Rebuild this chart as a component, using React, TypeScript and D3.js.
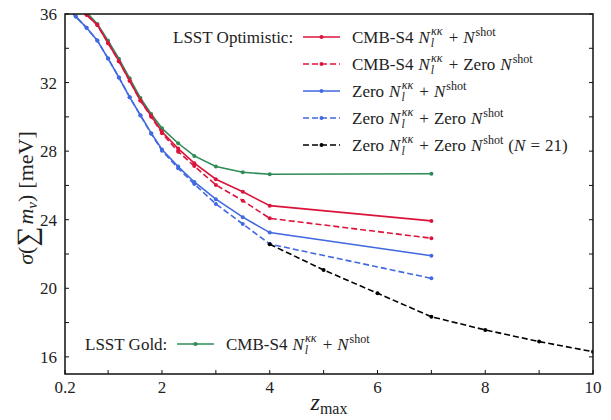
import React from 'react';
import * as d3 from 'd3';

const WIDTH = 611;
const HEIGHT = 420;
const MARGIN = { top: 14, right: 18, bottom: 46, left: 65 };
const FONT = 'Liberation Serif, DejaVu Serif, serif';

// LSST Optimistic, CMB-S4 N_l + N_shot
const zRed = [0.4, 0.6, 0.8, 1.0, 1.2, 1.4, 1.6, 1.8, 2.0, 2.3, 2.6, 3.0, 3.5, 4.0, 7.0];
const redSolid = [36.7, 35.95, 35.36, 34.3, 33.25, 32.1, 30.95, 30.05, 29.13, 28.15, 27.3, 26.36, 25.63, 24.82, 23.93];
const redDashed = [36.7, 35.95, 35.36, 34.3, 33.25, 32.1, 30.95, 30.0, 29.05, 27.97, 27.13, 26.03, 25.11, 24.08, 22.92];

// zero lensing noise
const zBlue = [0.2, 0.4, 0.6, 0.8, 1.0, 1.2, 1.4, 1.6, 1.8, 2.0, 2.3, 2.6, 3.0, 3.5, 4.0, 7.0];
const blueSolid = [36.5, 35.85, 35.2, 34.45, 33.4, 32.3, 31.15, 30.1, 29.05, 28.1, 27.1, 26.2, 25.2, 24.15, 23.25, 21.9];
const blueDashed = [36.5, 35.85, 35.2, 34.45, 33.4, 32.3, 31.15, 30.08, 29.02, 28.03, 27.0, 26.08, 24.92, 23.75, 22.58, 20.58];

// N = 21 bins
const zBlack = [4, 5, 6, 7, 8, 9, 10];
const blackDashed = [22.57, 21.07, 19.71, 18.34, 17.57, 16.89, 16.3];

// LSST Gold
const zGreen = [0.6, 0.8, 1.0, 1.2, 1.4, 1.6, 1.8, 2.0, 2.3, 2.6, 3.0, 3.5, 4.0, 7.0];
const greenSolid = [36.1, 35.42, 34.44, 33.39, 32.25, 31.1, 30.17, 29.33, 28.46, 27.72, 27.1, 26.77, 26.65, 26.68];

const xTicks = [0.2, 1, 2, 3, 4, 5, 6, 7, 8, 9, 10];
const xTickLabels = ['0.2', '', '2', '', '4', '', '6', '', '8', '', '10'];
const yTicks = [16, 18, 20, 22, 24, 26, 28, 30, 32, 34, 36];
const yTickLabels = ['16', '', '20', '', '24', '', '28', '', '32', '', '36'];

const RED = '#dc143c';
const BLUE = '#4169e1';
const GREEN = '#2e8b57';
const DASH = '6,3';

const series = [
    { z: zGreen, s: greenSolid, color: GREEN, dash: null },
    { z: zRed, s: redSolid, color: RED, dash: null },
    { z: zRed, s: redDashed, color: RED, dash: DASH },
    { z: zBlue, s: blueSolid, color: BLUE, dash: null },
    { z: zBlue, s: blueDashed, color: BLUE, dash: DASH },
    { z: zBlack, s: blackDashed, color: '#000', dash: DASH },
];

const legendRows = [
    { color: RED, dash: null, pre: 'CMB-S4', zero: false, post: false },
    { color: RED, dash: DASH, pre: 'CMB-S4', zero: true, post: false },
    { color: BLUE, dash: null, pre: 'Zero', zero: false, post: false },
    { color: BLUE, dash: DASH, pre: 'Zero', zero: true, post: false },
    { color: '#000', dash: DASH, pre: 'Zero', zero: true, post: true },
];

const NoiseLabel = ({ x, y, pre, zero, post }) => (
    <text x={x} y={y} fontSize={17} fontFamily={FONT} fill="#222">
        <tspan>{pre}</tspan>
        <tspan fontStyle="italic" dx={5}>N</tspan>
        <tspan fontStyle="italic" fontSize={12} dy={4} dx={1}>l</tspan>
        <tspan fontStyle="italic" fontSize={12} dx={-3} dy={-12}>κκ</tspan>
        <tspan dy={8} dx={6}>+</tspan>
        {zero && <tspan dx={5}>Zero</tspan>}
        <tspan fontStyle="italic" dx={5}>N</tspan>
        <tspan fontSize={12} dy={-7} dx={1}>shot</tspan>
        {post && <tspan dy={7} dx={5}>(</tspan>}
        {post && <tspan fontStyle="italic">N</tspan>}
        {post && <tspan dx={5}>=</tspan>}
        {post && <tspan dx={5}>21)</tspan>}
    </text>
);

const LegendLine = ({ x, y, color, dash }) => (
    <g>
        <line x1={x} x2={x + 37} y1={y} y2={y} stroke={color} strokeWidth={1.6} strokeDasharray={dash || undefined} />
        <circle cx={x + 18.5} cy={y} r={2} fill={color} />
    </g>
);

const App = () => {
    const boundsWidth = WIDTH - MARGIN.left - MARGIN.right;
    const boundsHeight = HEIGHT - MARGIN.top - MARGIN.bottom;

    const xScale = d3.scaleLinear().domain([0.2, 10]).range([0, boundsWidth]);
    const yScale = d3.scaleLinear().domain([15, 36]).range([boundsHeight, 0]);

    return (
        <svg width={WIDTH} height={HEIGHT} style={{ position: 'absolute', left: 0, top: 0, background: '#fff' }}>
            <defs>
                <clipPath id="plot-area">
                    <rect x={0} y={0} width={boundsWidth} height={boundsHeight} />
                </clipPath>
            </defs>
            <g transform={`translate(${MARGIN.left},${MARGIN.top})`}>
                <g clipPath="url(#plot-area)">
                    {series.map((ser, k) => {
                        const pts = ser.z.map((z, i) => [xScale(z), yScale(ser.s[i])] as [number, number]);
                        const path = d3.line()(pts);
                        return (
                            <g key={k}>
                                <path d={path || ''} fill="none" stroke={ser.color} strokeWidth={1.6}
                                    strokeDasharray={ser.dash || undefined} />
                                {pts.map((p, i) => (
                                    <circle key={i} cx={p[0]} cy={p[1]} r={2} fill={ser.color} />
                                ))}
                            </g>
                        );
                    })}
                </g>

                {/* frame */}
                <rect x={0} y={0} width={boundsWidth} height={boundsHeight} fill="none" stroke="#111" strokeWidth={1.5} />

                {xTicks.map((t, i) => (
                    <g key={'x' + i} transform={`translate(${xScale(t)},0)`}>
                        <line y1={boundsHeight} y2={boundsHeight - 4} stroke="#111" strokeWidth={1} />
                        <text y={boundsHeight + 19} textAnchor="middle" fontSize={17} fontFamily={FONT} fill="#222">
                            {xTickLabels[i]}
                        </text>
                    </g>
                ))}
                {yTicks.map((t, i) => (
                    <g key={'y' + i} transform={`translate(0,${yScale(t)})`}>
                        <line x1={0} x2={4} stroke="#111" strokeWidth={1} />
                        <line x1={boundsWidth} x2={boundsWidth - 4} stroke="#111" strokeWidth={1} />
                        <text x={-8} dy="0.35em" textAnchor="end" fontSize={17} fontFamily={FONT} fill="#222">
                            {yTickLabels[i]}
                        </text>
                    </g>
                ))}

                {/* legend: LSST Optimistic */}
                <text x={108} y={29} fontSize={17} fontFamily={FONT} fill="#222">LSST Optimistic:</text>
                {legendRows.map((r, i) => (
                    <g key={'l' + i}>
                        <LegendLine x={238} y={23 + i * 27} color={r.color} dash={r.dash} />
                        <NoiseLabel x={287} y={29 + i * 27} pre={r.pre} zero={r.zero} post={r.post} />
                    </g>
                ))}

                {/* legend: LSST Gold */}
                <text x={20} y={336} fontSize={17} fontFamily={FONT} fill="#222">LSST Gold:</text>
                <LegendLine x={112} y={330} color={GREEN} dash={null} />
                <NoiseLabel x={161} y={336} pre="CMB-S4" zero={false} post={false} />
            </g>

            {/* axis titles */}
            <text x={MARGIN.left + boundsWidth / 2} y={410} textAnchor="middle" fontFamily={FONT} fill="#222">
                <tspan fontStyle="italic" fontSize={24}>z</tspan>
                <tspan fontSize={16} dy={4}>max</tspan>
            </text>
            <text transform="translate(33,198) rotate(-90)" textAnchor="middle" fontFamily={FONT} fill="#222" fontSize={22}>
                <tspan fontStyle="italic">σ</tspan>
                <tspan>(</tspan>
                <tspan fontSize={28} dy={3}>∑</tspan>
                <tspan fontStyle="italic" dy={-3} dx={2}>m</tspan>
                <tspan fontStyle="italic" fontSize={15} dy={4}>ν</tspan>
                <tspan dy={-4}>)</tspan>
                <tspan dx={6}>[meV]</tspan>
            </text>
        </svg>
    );
};

export default App;
